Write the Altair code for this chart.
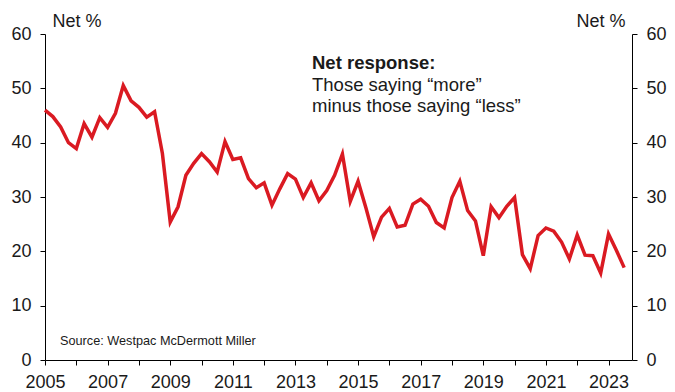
import altair as alt
import pandas as pd

# Quarterly net response, 2005 Q1 onwards
values = [
    46.0, 44.8, 42.9, 40.0, 38.9, 43.5, 41.0, 44.6, 42.8, 45.4,
    50.5, 47.7, 46.5, 44.7, 45.7, 38.0, 25.4, 28.2, 34.0, 36.2,
    38.0, 36.5, 34.6, 40.2, 36.9, 37.2, 33.4, 31.7, 32.6, 28.5,
    31.5, 34.3, 33.3, 29.9, 32.6, 29.3, 31.2, 34.0, 37.9, 29.2,
    32.9, 28.0, 22.7, 26.3, 27.9, 24.5, 24.8, 28.7, 29.6, 28.3,
    25.3, 24.3, 29.9, 32.9, 27.5, 25.6, 19.2, 28.2, 26.2, 28.3,
    29.9, 19.4, 16.8, 22.9, 24.3, 23.7, 21.7, 18.6, 23.0, 19.3,
    19.2, 16.0, 23.2, 20.2, 17.0,
]
start_year = 2005
quarters_per_year = 4
dates = [start_year + q / quarters_per_year for q in range(len(values))]

year_ticks = list(range(2005, 2024))
y_ticks = [0, 10, 20, 30, 40, 50, 60]

note_title = "Net response:"
note_lines = ["Those saying \u201cmore\u201d", "minus those saying \u201cless\u201d"]
source = "Source: Westpac McDermott Miller"

df = pd.DataFrame({"t": dates, "v": values})

FONT = "Liberation Sans"
RED = "#DA1A22"
INK = "#1a1a1a"

xenc = alt.X(
    "t:Q",
    scale=alt.Scale(domain=[2005, 2023.75], nice=False, zero=False),
    axis=alt.Axis(
        values=year_ticks,
        format="d",
        labelExpr="datum.value % 2 == 1 ? datum.label : ''",
        labelOverlap=False,
        labelFlush=False,
        grid=False,
        title=None,
        tickSize=5,
        labelPadding=8,
    ),
)

def yenc(orient, title_x, title_align):
    return alt.Y(
        "v:Q",
        scale=alt.Scale(domain=[0, 60], nice=False),
        axis=alt.Axis(
            orient=orient,
            values=y_ticks,
            grid=False,
            tickSize=5,
            labelPadding=9,
            title="Net %",
            titleAngle=0,
            titleAlign=title_align,
            titleBaseline="alphabetic",
            titleX=title_x,
            titleY=-8,
            titleFontWeight="normal",
        ),
    )

line = alt.Chart(df).mark_line(color=RED, strokeWidth=3.5, strokeJoin="miter").encode(
    x=xenc, y=yenc("left", 7, "left")
)
line_right = alt.Chart(df).mark_line(strokeOpacity=0).encode(
    x=xenc, y=yenc("right", -7, "right")
)

note_df = pd.DataFrame({"a": [0]})
title_txt = alt.Chart(note_df).mark_text(
    text=note_title, font=FONT, fontSize=18.5, fontWeight="bold", color=INK,
    align="left", baseline="alphabetic",
).encode(x=alt.value(267), y=alt.value(35))
body_txt = alt.Chart(note_df).mark_text(
    text=note_lines, font=FONT, fontSize=18.5, color=INK, lineHeight=21.5,
    align="left", baseline="alphabetic",
).encode(x=alt.value(267), y=alt.value(56.5))
src_txt = alt.Chart(note_df).mark_text(
    text=source, font=FONT, fontSize=12.7, color=INK,
    align="left", baseline="alphabetic",
).encode(x=alt.value(15), y=alt.value(311))

chart = (
    alt.layer(line, line_right, title_txt, body_txt, src_txt)
    .resolve_scale(y="independent")
    .properties(
        width=587,
        height=326,
        autosize="none",
        padding={"left": 45, "top": 34, "right": 43, "bottom": 32},
    )
    .configure_view(stroke=None)
    .configure_axis(
        labelFont=FONT, titleFont=FONT, labelFontSize=18, titleFontSize=18,
        labelColor=INK, titleColor=INK, domainColor="#000", tickColor="#000",
        domainWidth=1, tickWidth=1,
    )
)

chart.save("out.html", embed_options={"renderer": "svg", "actions": False})
